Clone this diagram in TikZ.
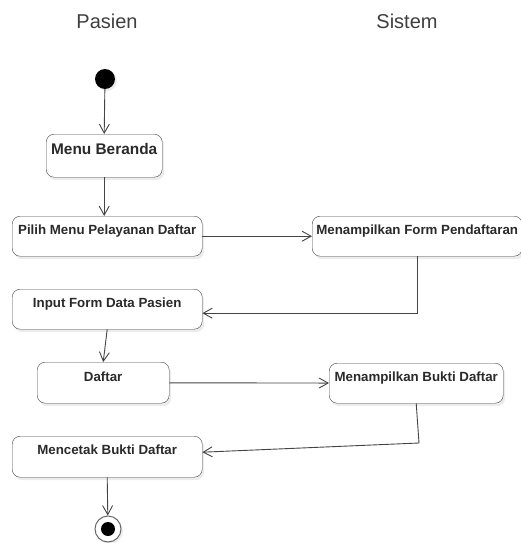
\documentclass[tikz,border=0pt]{standalone}
\usepackage{fontspec}
\setmainfont{Liberation Sans}
\usetikzlibrary{arrows.meta,shadows}
\definecolor{garis}{HTML}{444444}
\definecolor{teks}{HTML}{2A2A2A}
\begin{document}
\begin{tikzpicture}[x=1pt, y=-1pt,
		lane/.style={text=teks!90, font=\fontsize{20}{24}\selectfont},
		aksi/.style={draw=garis, fill=white, rounded corners=8pt, inner sep=0pt, anchor=north west,
			text height=18pt, text depth=22pt, text=teks,
			font=\fontsize{13.3}{16}\selectfont\bfseries,
			drop shadow={shadow xshift=2pt, shadow yshift=-3pt, opacity=0.15}},
		alur/.style={draw=garis, line width=0.9pt, -{Straight Barb[length=9pt, width=10pt, line width=0.9pt]}}]
				\useasboundingbox (0,0) rectangle (520,543);
				\node[lane] (pasien) at (107,21) {Pasien};
				\node[lane] (sistem) at (407,21) {Sistem};
				\node[circle, fill=black, minimum size=20pt, inner sep=0pt,
					drop shadow={shadow xshift=2pt, shadow yshift=-2pt, opacity=0.15}] (mulai) at (105,79) {};
				\node[aksi, minimum width=116pt, text height=20pt, text depth=23pt,
					font=\fontsize{15.4}{18}\selectfont\bfseries] (beranda) at (46,134) {Menu Beranda};
				\node[aksi, minimum width=190pt] (pilih) at (12,216) {Pilih Menu Pelayanan Daftar};
				\node[aksi, minimum width=210pt] (form) at (312,216) {Menampilkan Form Pendaftaran};
				\node[aksi, minimum width=190pt] (input) at (12,289) {Input Form Data Pasien};
				\node[aksi, minimum width=132pt, text height=19pt] (daftar) at (37,362) {Daftar};
				\node[aksi, minimum width=174pt, text height=18pt] (bukti) at (329,363) {Menampilkan Bukti Daftar};
				\node[aksi, minimum width=190pt, text depth=23pt] (cetak) at (12,436) {Mencetak Bukti Daftar};
				\node[circle, draw=garis!80, line width=1pt, fill=white, minimum size=26pt, inner sep=0pt,
					drop shadow={shadow xshift=2pt, shadow yshift=-2pt, opacity=0.15}] (selesai) at (108,529) {};
				\fill[black] (selesai) circle (7pt);
				\coordinate (belok) at (419,443);
				\draw[alur] (mulai) -- (beranda.north);
				\draw[alur] (beranda.south) -- (beranda.south |- pilih.north);
				\draw[alur] (pilih) -- (form);
				\draw[alur] (form.south) |- ([yshift=-4pt]input.east);
				\draw[alur] (input.south) -- (daftar.north);
				\draw[alur] (daftar) -- (bukti);
				\draw[alur] (bukti.south) -- (belok) -- ([yshift=4.5pt]cetak.east);
				\draw[alur] (cetak.south) -- (selesai);
\end{tikzpicture}
\end{document}
